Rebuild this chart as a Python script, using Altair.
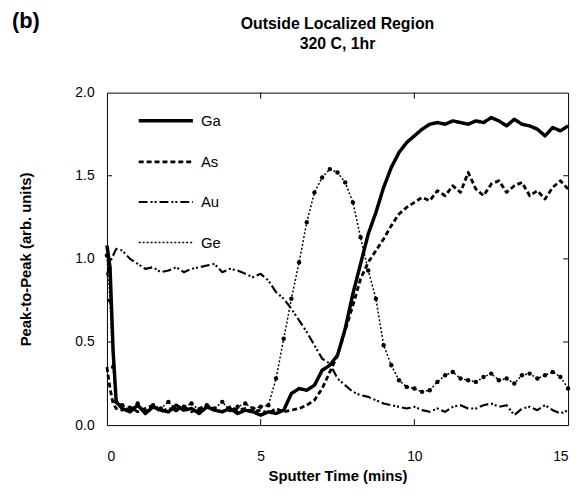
import altair as alt
import pandas as pd

# ---- data ----
time = [0, 0.1, 0.2, 0.3, 0.5, 0.75, 1.0, 1.25, 1.5, 1.75, 2.0, 2.25, 2.5, 2.75,
        3.0, 3.25, 3.5, 3.75, 4.0, 4.25, 4.5, 4.75, 5.0, 5.25, 5.5, 5.75, 6.0,
        6.25, 6.5, 6.75, 7.0, 7.25, 7.5, 7.75, 8.0, 8.25, 8.5, 8.75, 9.0, 9.25,
        9.5, 9.75, 10.0, 10.25, 10.5, 10.75, 11.0, 11.25, 11.5, 11.75, 12.0,
        12.25, 12.5, 12.75, 13.0, 13.25, 13.5, 13.75, 14.0, 14.25, 14.5, 14.75, 15.0]

ga = [1.08, 0.95, 0.45, 0.14, 0.10, 0.08, 0.12, 0.07, 0.11, 0.09, 0.08, 0.12, 0.09, 0.10,
      0.07, 0.11, 0.09, 0.08, 0.10, 0.07, 0.09, 0.08, 0.06, 0.08, 0.07, 0.09, 0.19,
      0.22, 0.21, 0.24, 0.33, 0.36, 0.42, 0.58, 0.79, 0.97, 1.15, 1.28, 1.43, 1.55,
      1.64, 1.70, 1.74, 1.78, 1.81, 1.82, 1.81, 1.83, 1.82, 1.81, 1.83,
      1.82, 1.85, 1.83, 1.80, 1.84, 1.81, 1.80, 1.78, 1.74, 1.79, 1.77, 1.80]

as_ = [0.35, 0.22, 0.13, 0.10, 0.09, 0.11, 0.08, 0.10, 0.12, 0.08, 0.10, 0.09, 0.11, 0.08,
       0.10, 0.12, 0.09, 0.08, 0.11, 0.09, 0.10, 0.08, 0.09, 0.07, 0.10, 0.08, 0.09,
       0.10, 0.12, 0.15, 0.22, 0.32, 0.42, 0.57, 0.72, 0.88, 0.98, 1.05, 1.12, 1.20,
       1.27, 1.31, 1.34, 1.37, 1.35, 1.41, 1.38, 1.44, 1.40, 1.52, 1.42,
       1.38, 1.45, 1.47, 1.40, 1.44, 1.46, 1.38, 1.41, 1.36, 1.43, 1.47, 1.42]

au = [0.90, 0.98, 1.02, 1.06, 1.05, 1.00, 0.97, 0.94, 0.95, 0.92, 0.93, 0.95, 0.92, 0.94,
      0.95, 0.96, 0.97, 0.92, 0.94, 0.93, 0.91, 0.89, 0.91, 0.87, 0.80, 0.76, 0.70,
      0.63, 0.56, 0.48, 0.40, 0.37, 0.28, 0.24, 0.20, 0.18, 0.17, 0.15, 0.13, 0.12,
      0.11, 0.10, 0.11, 0.09, 0.08, 0.10, 0.08, 0.11, 0.12, 0.10, 0.10,
      0.12, 0.13, 0.11, 0.12, 0.06, 0.10, 0.11, 0.09, 0.12, 0.09, 0.07, 0.09]

ge = [1.02, 0.75, 0.35, 0.14, 0.12, 0.09, 0.13, 0.08, 0.12, 0.10, 0.14, 0.09, 0.11, 0.13,
      0.09, 0.12, 0.10, 0.14, 0.09, 0.11, 0.13, 0.10, 0.11, 0.12, 0.28, 0.52, 0.76,
      0.98, 1.22, 1.40, 1.49, 1.54, 1.52, 1.46, 1.34, 1.13, 0.93, 0.76, 0.48, 0.36,
      0.27, 0.23, 0.22, 0.20, 0.21, 0.26, 0.30, 0.32, 0.28, 0.27, 0.26,
      0.29, 0.31, 0.27, 0.28, 0.25, 0.30, 0.31, 0.28, 0.30, 0.32, 0.29, 0.22]

series_names = ["Ga", "As", "Au", "Ge"]
x_ticks = [0, 5, 10, 15]
y_ticks = [0.0, 0.5, 1.0, 1.5, 2.0]
inner_x_ticks = [5, 10]
inner_y_ticks = [0.5, 1.0, 1.5]
panel_label = ["(b)"]
title_lines = ["Outside Localized Region", "320 C, 1hr"]

rows = []
for name, vals in zip(series_names, [ga, as_, au, ge]):
    for t, v in zip(time, vals):
        rows.append({"t": t, "v": v, "series": name})
df = pd.DataFrame(rows)

W, H = 466, 336
FONT = "Liberation Sans"

xscale = alt.Scale(domain=[0, 15], nice=False, zero=False)
yscale = alt.Scale(domain=[0, 2], nice=False)

base = alt.Chart(df)

lines = base.mark_line(color="black", strokeCap="butt", strokeJoin="round").encode(
    x=alt.X("t:Q", scale=xscale,
            axis=alt.Axis(values=x_ticks, title="Sputter Time (mins)", format="d")),
    y=alt.Y("v:Q", scale=yscale,
            axis=alt.Axis(values=y_ticks, title="Peak-to-Peak (arb. units)", format=".1f")),
    strokeDash=alt.StrokeDash(
        "series:N",
        scale=alt.Scale(domain=series_names,
                        range=[[1, 0], [5, 3], [9, 3, 2, 2, 2, 3], [2, 2]]),
        legend=alt.Legend(title=None),
    ),
    strokeWidth=alt.StrokeWidth(
        "series:N",
        scale=alt.Scale(domain=series_names, range=[3.5, 1.5, 1.7, 2.0]),
        legend=alt.Legend(title=None),
    ),
    detail="series:N",
    order="t:Q",
)

ge_points = base.transform_filter(alt.datum.series == "Ge").mark_circle(
    color="black", size=20, opacity=1
).encode(x="t:Q", y="v:Q")

ytick_df = pd.DataFrame({"v": inner_y_ticks})
xtick_df = pd.DataFrame({"t": inner_x_ticks})

lt = alt.Chart(ytick_df).mark_rule(color="black", strokeWidth=1).encode(
    y="v:Q", x=alt.value(0), x2=alt.value(5))
rt = alt.Chart(ytick_df).mark_rule(color="black", strokeWidth=1).encode(
    y="v:Q", x=alt.value(W - 5), x2=alt.value(W))
bt = alt.Chart(xtick_df).mark_rule(color="black", strokeWidth=1).encode(
    x="t:Q", y=alt.value(H - 6), y2=alt.value(H))
tt = alt.Chart(xtick_df).mark_rule(color="black", strokeWidth=1).encode(
    x="t:Q", y=alt.value(0), y2=alt.value(6))

label = alt.Chart(pd.DataFrame({"lab": panel_label})).mark_text(
    font=FONT, fontSize=22, fontWeight="bold", align="center", baseline="middle"
).encode(text="lab:N", x=alt.value(-82), y=alt.value(-72))

chart = alt.layer(lines, ge_points, lt, rt, bt, tt, label).properties(
    width=W, height=H,
    title=alt.TitleParams(title_lines, font=FONT, fontSize=16, fontWeight="bold",
                          anchor="middle", offset=-42, lineHeight=20, color="black",
                          frame="group"),
    autosize=alt.AutoSizeParams(type="none"),
    padding={"left": 100, "top": 83, "right": 8, "bottom": 60},
).configure_view(stroke="black", strokeWidth=1).configure_axis(
    grid=False, domain=False, ticks=False, labelFont=FONT, titleFont=FONT,
    labelFontSize=14, titleFontSize=15, titleFontWeight="bold",
    labelColor="black", titleColor="black",
).configure_axisY(
    labelPadding=13, titlePadding=42,
).configure_axisX(
    labelPadding=25, titlePadding=5,
).configure_legend(
    orient="none", legendX=30, legendY=-1, symbolType="stroke", symbolSize=3000,
    symbolStrokeColor="black", labelFont=FONT, labelFontSize=15, labelColor="black",
    rowPadding=4, labelOffset=6,
)

chart.save("out.html", embed_options={"renderer": "svg", "actions": False})
